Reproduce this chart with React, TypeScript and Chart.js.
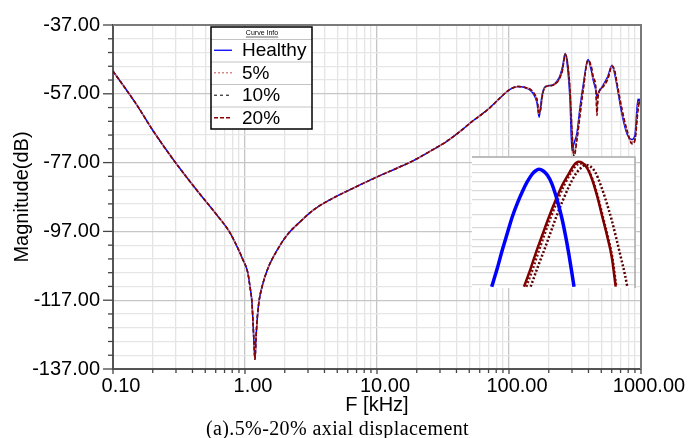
import React, { useEffect, useRef } from 'react';
import { Chart, registerables } from 'chart.js';
Chart.register(...registerables);

// ---------- data (kHz / dB) ----------
const freqLow = [0.1, 0.15, 0.2, 0.3, 0.45, 0.6, 0.77, 0.885, 0.966, 1.05, 1.09, 1.13, 1.15, 1.17, 1.19, 1.21, 1.23, 1.27, 1.34, 1.49, 1.78, 2.11, 2.6, 3.29, 4.5, 5.93, 8, 10.5, 14, 18.7, 25, 33.8, 45, 50.7, 60, 71.8, 85, 101.8, 117, 130];
const magLow = [-50.4, -60.0, -67.6, -77.2, -85.9, -91.8, -97.4, -102.0, -105.3, -109.0, -113.0, -117.8, -123.5, -129.5, -134.2, -128.5, -123.8, -118.0, -113.4, -107.8, -102.0, -97.8, -94.3, -90.8, -87.6, -85.3, -82.9, -80.8, -78.7, -76.5, -73.8, -70.8, -67.2, -65.5, -63.4, -61.0, -58.3, -55.7, -54.9, -55.1];

const freqHigh = [144, 155, 163, 169, 174, 178, 187, 200, 215, 230, 243, 255, 266, 275, 290, 300, 310, 327, 345, 364, 397, 420, 433, 455, 464, 472, 515, 560, 603, 630, 658, 718, 783, 855, 901, 949, 982, 1000];
const healthyHigh = [-55.9, -57.4, -59.6, -63.8, -60.2, -57.4, -55.0, -54.6, -54.4, -53.4, -51.8, -49.0, -45.3, -47.8, -59.0, -73.5, -71.5, -68.5, -61.0, -54.7, -47.0, -50.2, -52.8, -56.0, -57.8, -57.0, -54.6, -52.0, -48.7, -51.0, -54.8, -63.0, -68.6, -70.3, -68.8, -58.5, -59.8, -59.5];
const p5High = [-55.7, -57.1, -59.0, -63.0, -61.0, -57.8, -55.1, -54.6, -54.4, -53.6, -52.1, -49.5, -45.4, -47.2, -57.0, -69.0, -74.5, -69.5, -62.2, -55.5, -47.1, -49.6, -52.3, -55.8, -61.5, -57.6, -54.8, -52.4, -48.8, -50.5, -54.3, -62.2, -68.0, -71.0, -69.6, -60.0, -59.0, -59.2];
const p10High = [-55.7, -57.0, -58.8, -62.8, -61.2, -58.0, -55.2, -54.7, -54.5, -53.7, -52.2, -49.7, -45.5, -47.0, -56.2, -68.0, -75.0, -70.0, -62.8, -55.9, -47.2, -49.3, -52.0, -55.6, -62.5, -57.8, -54.9, -52.6, -48.9, -50.2, -54.0, -61.8, -67.7, -71.3, -70.0, -61.0, -58.8, -59.1];
const p20High = [-55.6, -56.9, -58.6, -62.5, -61.5, -58.2, -55.2, -54.7, -54.5, -53.8, -52.4, -50.0, -45.6, -46.8, -55.5, -67.0, -75.5, -70.5, -63.5, -56.3, -47.3, -49.0, -51.8, -55.5, -63.3, -58.0, -55.0, -52.8, -49.0, -50.0, -53.8, -61.5, -67.5, -71.6, -70.5, -62.0, -58.5, -59.0];

const seriesLabels = ['Healthy', '5%', '10%', '20%'];

// axis ticks
const xMajorTicks = [0.1, 1, 10, 100, 1000];
const xTickLabels = ['0.10', '1.00', '10.00', '100.00', '1000.00'];
const xMinorMultipliers = [2, 3, 4, 5, 6, 7, 8, 9];
const yMajorTicks = [-137, -117, -97, -77, -57, -37];
const yTickLabels = ['-137.00', '-117.00', '-97.00', '-77.00', '-57.00', '-37.00'];
const yMinorStep = 4;

// inset (zoomed view) curves, in inset units
const insetBlueX = [19.7, 25.3, 30.3, 35.3, 40.3, 45.3, 50.3, 55.3, 60.3, 63.7, 67, 71, 75.3, 79.7, 83.7, 87, 90.3, 93.7, 97, 99.7, 102];
const insetBlueY = [1.3, 19.7, 38, 54.7, 71.3, 84.7, 96.3, 106.3, 114, 117.3, 118.7, 117.3, 113, 104.7, 93, 81.3, 68, 51.3, 33, 16.3, 1.3];
const insetRedX = [52, 58.7, 63.7, 70.3, 77, 83.7, 90.3, 97, 102, 106.3, 110.3, 115.3, 120.3, 125.3, 130.3, 135.3, 139.7, 143.7];
const insetRedY = [1.3, 19.7, 34.7, 53, 71.3, 88, 103, 114.7, 123, 126.3, 125.3, 119.7, 108, 91.3, 71.3, 51.3, 31.3, 1.3];
const insetDotAX = [54.3, 61, 66, 72.3, 79, 85.7, 92.3, 98.7, 103.7, 107.7, 111.7, 116.3, 121, 126, 131, 136, 140.3, 144.3];
const insetDotAY = [1.3, 19.7, 34.7, 53, 71.3, 88, 103, 114.7, 122, 124.7, 124, 118.7, 107.3, 90.7, 70.7, 50.7, 30.7, 1.3];
const insetDotBX = [58.7, 65.3, 71, 77.7, 84.3, 91, 97.7, 103.7, 108.7, 113.7, 117.7, 123, 128.7, 134.3, 139.7, 144.3, 148.7, 153, 155.3];
const insetDotBY = [1.3, 19.7, 34.7, 53, 71.3, 88, 103, 114, 119.7, 123, 122, 116.3, 103, 86.3, 68, 49.7, 31.3, 13, 1.3];
const insetGridValues = [3, 15, 21, 35, 41, 48, 60, 73, 88, 97, 106, 115, 123];

const FONT = '"Liberation Sans", Arial, sans-serif';

function pts(xs: number[], ys: number[]) {
  return xs.map((x, i) => ({ x, y: ys[i] }));
}

const isMajorX = (v: number) => xMajorTicks.some((m) => Math.abs(m - v) / m < 1e-6);
const isMajorY = (v: number) => yMajorTicks.includes(Math.round(v));

const legendPlugin = {
  id: 'boxLegend',
  afterDraw(chart: any) {
    const ctx = chart.ctx;
    const L = 211, T = 27, R = 312, B = 129;
    ctx.save();
    ctx.fillStyle = '#ffffff';
    ctx.fillRect(L, T, R - L, B - T);
    ctx.fillStyle = '#000';
    ctx.font = '7px ' + FONT;
    ctx.textAlign = 'center';
    ctx.textBaseline = 'middle';
    ctx.fillText('Curve Info', 262, 33);
    const tw = ctx.measureText('Curve Info').width;
    ctx.strokeStyle = '#000';
    ctx.lineWidth = 0.6;
    ctx.beginPath();
    ctx.moveTo(262 - tw / 2, 37);
    ctx.lineTo(262 + tw / 2, 37);
    ctx.stroke();
    const rowH = 22.5;
    const top0 = 39;
    chart.data.datasets.forEach((ds: any, i: number) => {
      const top = top0 + i * rowH;
      ctx.strokeStyle = '#c4c4c4';
      ctx.lineWidth = 1;
      ctx.setLineDash([]);
      ctx.beginPath();
      ctx.moveTo(L, top + 0.5);
      ctx.lineTo(R, top + 0.5);
      ctx.stroke();
      const cy = top + rowH / 2;
      ctx.strokeStyle = ds.borderColor;
      ctx.lineWidth = 1.3;
      ctx.setLineDash(ds.borderDash || []);
      ctx.beginPath();
      ctx.moveTo(214, cy);
      ctx.lineTo(232, cy);
      ctx.stroke();
      ctx.setLineDash([]);
      ctx.fillStyle = '#000';
      ctx.font = '19px ' + FONT;
      ctx.textAlign = 'left';
      ctx.fillText(ds.label, 242, cy + 1);
    });
    ctx.strokeStyle = '#000';
    ctx.lineWidth = 1.5;
    ctx.strokeRect(L, T, R - L, B - T);
    ctx.restore();
  },
};

const framePlugin = {
  id: 'frameTicks',
  afterDraw(chart: any) {
    const ctx = chart.ctx;
    const { left, right, top, bottom } = chart.chartArea;
    const xs = chart.scales.x;
    const ys = chart.scales.y;
    ctx.save();
    ctx.strokeStyle = '#7a7a7a';
    ctx.lineWidth = 2;
    ctx.beginPath();
    ctx.moveTo(left, top);
    ctx.lineTo(right, top);
    ctx.lineTo(right, bottom);
    ctx.stroke();
    ctx.strokeStyle = '#444';
    ctx.lineWidth = 1.3;
    ys.ticks.forEach((t: any) => {
      const y = ys.getPixelForValue(t.value);
      const len = isMajorY(t.value) ? 10 : 5;
      ctx.beginPath();
      ctx.moveTo(left - len, y);
      ctx.lineTo(left, y);
      ctx.stroke();
    });
    xs.ticks.forEach((t: any) => {
      const x = xs.getPixelForValue(t.value);
      const len = isMajorX(t.value) ? 5 : 4;
      ctx.beginPath();
      ctx.moveTo(x, bottom);
      ctx.lineTo(x, bottom + len);
      ctx.stroke();
    });
    ctx.restore();
  },
};

const insetPlugin = {
  id: 'insetFrame',
  beforeDraw(chart: any) {
    const ctx = chart.ctx;
    ctx.save();
    ctx.fillStyle = '#fff';
    ctx.fillRect(0, 0, chart.width, chart.height);
    ctx.restore();
  },
  afterDraw(chart: any) {
    const ctx = chart.ctx;
    ctx.save();
    ctx.strokeStyle = '#a8a8a8';
    ctx.lineWidth = 1.5;
    ctx.beginPath();
    ctx.moveTo(0, 1);
    ctx.lineTo(chart.width - 1, 1);
    ctx.lineTo(chart.width - 1, chart.height);
    ctx.stroke();
    ctx.restore();
  },
};

export default function App() {
  const mainRef = useRef<HTMLCanvasElement>(null);
  const insetRef = useRef<HTMLCanvasElement>(null);

  useEffect(() => {
    Chart.defaults.font.family = FONT;
    const freqAll = freqLow.concat(freqHigh);
    const mk = (high: number[]) => pts(freqAll, magLow.concat(high));

    const main = new Chart(mainRef.current!, {
      type: 'line',
      data: {
        datasets: [
          { label: seriesLabels[0], data: mk(healthyHigh), borderColor: '#0000ff', borderWidth: 1.5, pointRadius: 0, order: 4, cubicInterpolationMode: 'monotone' },
          { label: seriesLabels[1], data: mk(p5High), borderColor: '#d07878', borderWidth: 1.5, borderDash: [2, 2], pointRadius: 0, order: 3, cubicInterpolationMode: 'monotone' },
          { label: seriesLabels[2], data: mk(p10High), borderColor: '#3a3a3a', borderWidth: 1.5, borderDash: [3, 3], pointRadius: 0, order: 2, cubicInterpolationMode: 'monotone' },
          { label: seriesLabels[3], data: mk(p20High), borderColor: '#8b0000', borderWidth: 1.5, borderDash: [4, 2], pointRadius: 0, order: 1, cubicInterpolationMode: 'monotone' },
        ] as any,
      },
      options: {
        responsive: false,
        animation: false,
        events: [],
        layout: { padding: { left: 0, top: 18, right: 47, bottom: 0 } },
        plugins: { legend: { display: false }, tooltip: { enabled: false } },
        scales: {
          x: {
            type: 'logarithmic',
            min: 0.1,
            max: 1000,
            afterBuildTicks: (s: any) => {
              const t: any[] = [];
              xMajorTicks.forEach((m, i) => {
                t.push({ value: m });
                if (i < xMajorTicks.length - 1) xMinorMultipliers.forEach((k) => t.push({ value: m * k }));
              });
              s.ticks = t;
            },
            afterFit: (s: any) => { s.height = 51; },
            ticks: {
              autoSkip: false,
              maxRotation: 0,
              padding: 5,
              labelOffset: 8,
              color: '#000',
              font: { size: 20 },
              callback: (v: any) => {
                const i = xMajorTicks.findIndex((m) => Math.abs(m - v) / m < 1e-6);
                return i >= 0 ? xTickLabels[i] : '';
              },
            },
            grid: {
              drawTicks: false,
              color: (c: any) => (c.tick && isMajorX(c.tick.value) ? '#c6c6c6' : '#e4e4e4'),
              lineWidth: 1.3,
            },
            border: { color: '#555', width: 2 },
            title: { display: true, text: 'F [kHz]', color: '#000', font: { size: 20 }, padding: { top: 0, bottom: 3 } },
          },
          y: {
            type: 'linear',
            min: -137,
            max: -37,
            afterBuildTicks: (s: any) => {
              const t: any[] = [];
              for (let v = yMajorTicks[0]; v <= yMajorTicks[yMajorTicks.length - 1]; v += yMinorStep) t.push({ value: v });
              s.ticks = t;
            },
            afterFit: (s: any) => { s.width = 113; },
            ticks: {
              autoSkip: false,
              padding: 13,
              color: '#000',
              font: { size: 20 },
              callback: (v: any) => {
                const i = yMajorTicks.indexOf(Math.round(v));
                return i >= 0 ? yTickLabels[i] : '';
              },
            },
            grid: {
              drawTicks: false,
              color: (c: any) => (c.tick && isMajorY(c.tick.value) ? '#c6c6c6' : '#e6e6e6'),
              lineWidth: 1.3,
            },
            border: { color: '#555', width: 2 },
            title: { display: true, text: 'Magnitude(dB)', color: '#000', font: { size: 20 }, padding: { top: 10, bottom: 0 } },
          },
        },
      } as any,
      plugins: [framePlugin, legendPlugin],
    });

    const inset = new Chart(insetRef.current!, {
      type: 'line',
      data: {
        datasets: [
          { data: pts(insetBlueX, insetBlueY), borderColor: '#0000ff', borderWidth: 3.5, pointRadius: 0, cubicInterpolationMode: 'monotone', order: 1 },
          { data: pts(insetRedX, insetRedY), borderColor: '#800000', borderWidth: 2.5, pointRadius: 0, cubicInterpolationMode: 'monotone', order: 2 },
          { data: pts(insetDotAX, insetDotAY), borderColor: '#7a1010', borderWidth: 2.5, borderDash: [2, 2], pointRadius: 0, cubicInterpolationMode: 'monotone', order: 3 },
          { data: pts(insetDotBX, insetDotBY), borderColor: '#5a0000', borderWidth: 2.5, borderDash: [2, 2], pointRadius: 0, cubicInterpolationMode: 'monotone', order: 4 },
        ] as any,
      },
      options: {
        responsive: false,
        animation: false,
        events: [],
        layout: { padding: 0 },
        plugins: { legend: { display: false }, tooltip: { enabled: false } },
        scales: {
          x: { type: 'linear', min: 0, max: 164, display: false },
          y: {
            type: 'linear',
            min: 0,
            max: 132,
            afterBuildTicks: (s: any) => { s.ticks = insetGridValues.map((v) => ({ value: v })); },
            afterFit: (s: any) => { s.width = 0; },
            ticks: { display: false },
            border: { display: false },
            grid: { drawTicks: false, color: '#dadada', lineWidth: 1.3 },
          },
        },
      } as any,
      plugins: [insetPlugin],
    });

    return () => {
      main.destroy();
      inset.destroy();
    };
  }, []);

  return (
    <div style={{ position: 'fixed', left: 0, top: 0, width: 688, height: 438, background: '#fff', overflow: 'hidden' }}>
      <canvas ref={mainRef} width={688} height={420} style={{ position: 'absolute', left: 0, top: 0 }} />
      <canvas ref={insetRef} width={164} height={132} style={{ position: 'absolute', left: 472, top: 156 }} />
      <div
        style={{
          position: 'absolute',
          left: 0,
          top: 418,
          width: 675,
          textAlign: 'center',
          fontFamily: '"Liberation Serif", "Times New Roman", serif',
          fontSize: 20,
          letterSpacing: '0.4px',
          lineHeight: '20px',
          color: '#000',
          whiteSpace: 'nowrap',
        }}
      >
        (a).5%-20% axial displacement
      </div>
    </div>
  );
}
